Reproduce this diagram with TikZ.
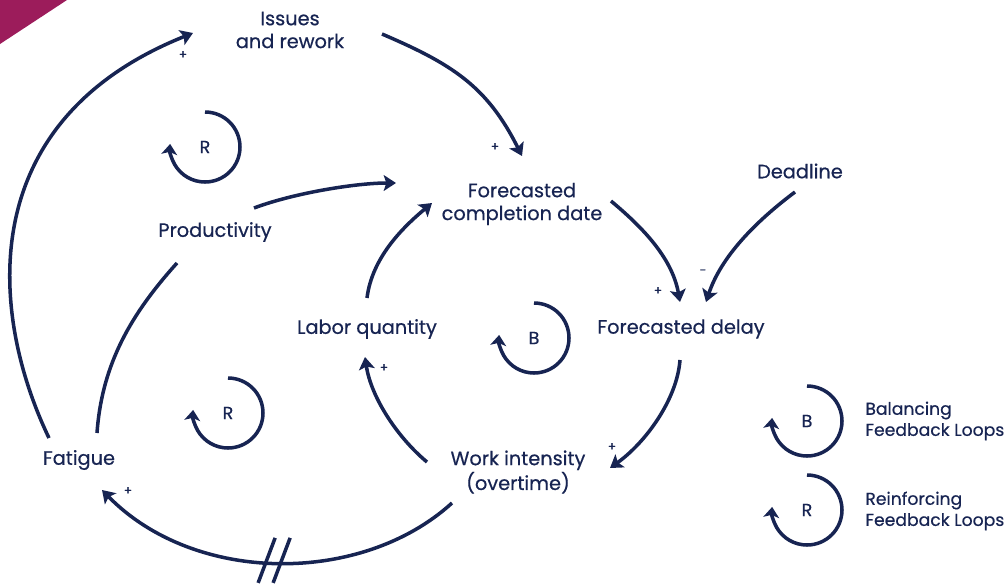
\documentclass[tikz,border=0pt]{standalone}
\usepackage{fontspec}
\setmainfont{Poppins}[FakeBold=0.5]
\usetikzlibrary{arrows.meta}
\definecolor{navy}{HTML}{172452}
\definecolor{berry}{HTML}{9C1C5B}
\tikzset{
	var/.style={text=navy, font=\fontsize{11}{13}\selectfont, align=center, inner sep=0pt},
	link/.style={draw=navy, line width=2pt, -{Stealth[length=7pt,width=9pt,inset=1.5pt]}},
	plainlink/.style={draw=navy, line width=2pt},
	sign/.style={text=navy, font=\fontsize{7}{8}\selectfont, inner sep=0pt},
	loopmark/.style={draw=navy, line width=2pt, -{Stealth[length=6pt,width=9pt,inset=1.5pt]}},
	looplabel/.style={text=navy, font=\fontsize{10}{12}\selectfont, inner sep=0pt},
	legend/.style={text=navy, font=\fontsize{9.8}{12}\selectfont, align=left, anchor=west, inner sep=0pt}
}
\begin{document}
\begin{tikzpicture}[x=0.02cm, y=-0.02cm]
	\useasboundingbox (0,0) rectangle (1005,586);
	\fill[berry] (0,0) -- (67,0) -- (0,44) -- cycle;

	\node[var] (issues)   at (290,30)  {Issues\\and rework};
	\node[var] (compl)    at (522,204) {Forecasted\\completion date};
	\node[var] (deadline) at (800,171) {Deadline};
	\node[var] (prod)     at (215,232) {Productivity};
	\node[var] (labor)    at (367,329) {Labor quantity};
	\node[var] (delay)    at (681,329) {Forecasted delay};
	\node[var] (work)     at (518,472) {Work intensity\\(overtime)};
	\node[var] (fatigue)  at (79,460)  {Fatigue};

	\draw[link] ([shift={(-30,-22)}]fatigue.center) .. controls +(-60,-125) and +(-220,88) .. ([shift={(-97,3)}]issues.center);
	\draw[link] ([shift={(92,4)}]issues.center) .. controls +(70,30) and +(-35,-70) .. ([shift={(0,-48)}]compl.center);
	\draw[link] ([shift={(39,-24)}]prod.center) .. controls +(40,-15) and +(-40,0) .. ([shift={(-126,-21)}]compl.center);
	\draw[plainlink] ([shift={(18,-27)}]fatigue.center) .. controls +(5,-70) and +(-45,50) .. ([shift={(-38,31)}]prod.center);
	\draw[link] ([shift={(0,-31)}]labor.center) .. controls +(5,-40) and +(-30,25) .. ([shift={(-90,-1)}]compl.center);
	\draw[link] ([shift={(89,-3)}]compl.center) .. controls +(30,25) and +(-8,-45) .. ([shift={(-1,-27)}]delay.center);
	\draw[link] ([shift={(-5,21)}]deadline.center) .. controls +(-40,30) and +(15,-45) .. ([shift={(25,-27)}]delay.center);
	\draw[link] ([shift={(-1,31)}]delay.center) .. controls +(-3,40) and +(35,-25) .. ([shift={(92,-4)}]work.center);
	\draw[link] ([shift={(-91,-10)}]work.center) .. controls +(-30,-25) and +(6,40) .. ([shift={(-2,28)}]labor.center);
	\draw[link] ([shift={(-66,31)}]work.center) .. controls +(-90,82) and +(93,95) .. ([shift={(23,30)}]fatigue.center) coordinate[pos=0.5] (gap);
	\draw[plainlink] ([shift={(-20,20)}]gap) -- ++(17,-45);
	\draw[plainlink] ([shift={(-5,20)}]gap) -- ++(17,-45);

	\node[sign] (s1) at (183,55)  {+};
	\node[sign] (s2) at (495,147) {+};
	\node[sign] (s3) at (658,291) {+};
	\node[sign] (s4) at (703,272) {-};
	\node[sign] (s5) at (612,447) {+};
	\node[sign] (s6) at (384,368) {+};
	\node[sign] (s7) at (128,491) {+};

	\node[looplabel] (rtop) at (205,147) {R};
	\draw[loopmark] ([shift={(0,-35)}]rtop.center) arc[start angle=-90, end angle=185, radius=35];
	\node[looplabel] (rlow) at (228,413) {R};
	\draw[loopmark] ([shift={(0,-35)}]rlow.center) arc[start angle=-90, end angle=185, radius=35];
	\node[looplabel] (bmid) at (534,338) {B};
	\draw[loopmark] ([shift={(0,-35)}]bmid.center) arc[start angle=-90, end angle=185, radius=35];

	\node[looplabel] (bkey) at (807,421) {B};
	\draw[loopmark] ([shift={(0,-35)}]bkey.center) arc[start angle=-90, end angle=185, radius=35];
	\node[legend] (bal) at (865,421) {Balancing\\Feedback Loops};
	\node[looplabel] (rkey) at (807,510) {R};
	\draw[loopmark] ([shift={(0,-35)}]rkey.center) arc[start angle=-90, end angle=185, radius=35];
	\node[legend] (rein) at (865,511) {Reinforcing\\Feedback Loops};
\end{tikzpicture}
\end{document}
